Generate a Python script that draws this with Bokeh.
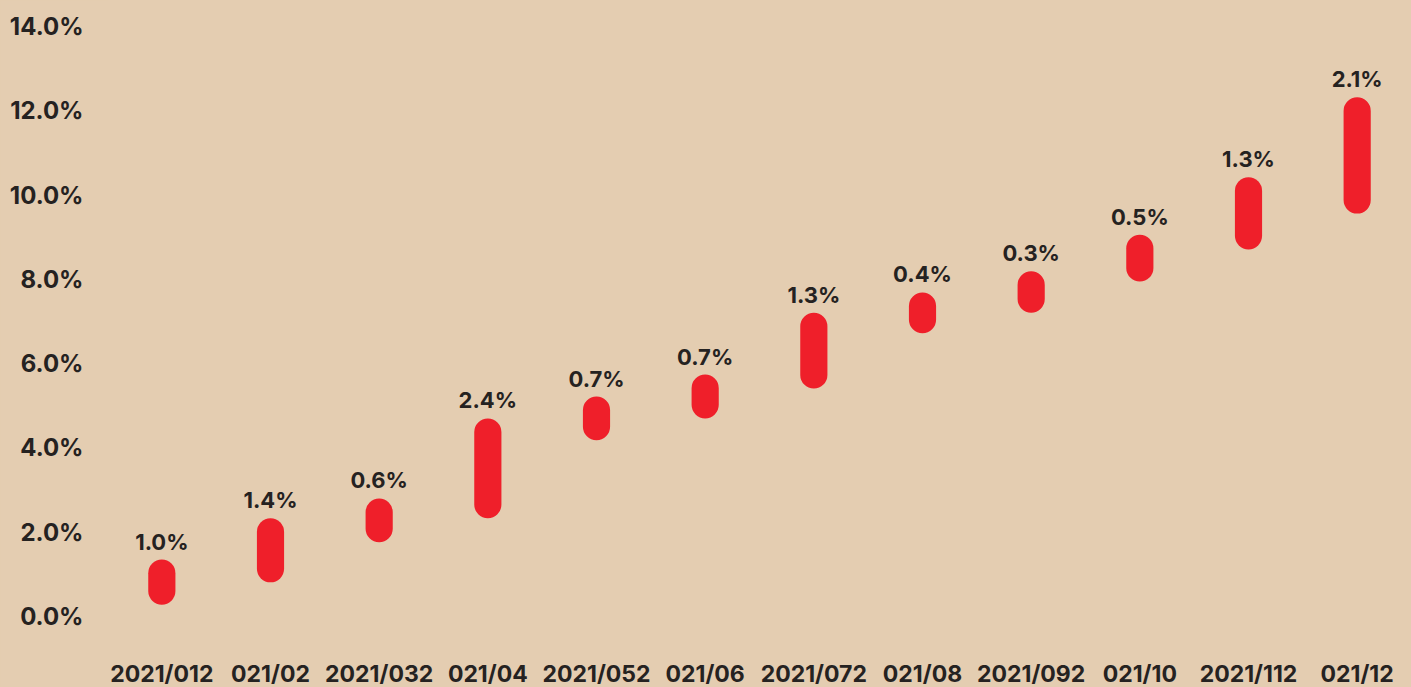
from bokeh.plotting import figure
from bokeh.models import ColumnDataSource, Range1d, FixedTicker, PrintfTickFormatter
from bokeh.core.properties import value
from bokeh.embed import file_html
from bokeh.resources import INLINE

months = ["2021/012", "021/02", "2021/032", "021/04", "2021/052", "021/06",
          "2021/072", "021/08", "2021/092", "021/10", "2021/112", "021/12"]
lows = [0.28, 0.81, 1.76, 2.33, 4.18, 4.70, 5.41, 6.72, 7.21, 7.95, 8.71, 9.56]
highs = [1.35, 2.33, 2.80, 4.70, 5.22, 5.74, 7.21, 7.69, 8.19, 9.06, 10.42, 12.32]
labels = ["1.0%", "1.4%", "0.6%", "2.4%", "0.7%", "0.7%",
          "1.3%", "0.4%", "0.3%", "0.5%", "1.3%", "2.1%"]
yticks = [0, 2, 4, 6, 8, 10, 12, 14]

BG = "#E4CDB1"
RED = "#EF1F2A"
INK = "#252221"
FONT = "Inter"

xs = list(range(len(months)))
src = ColumnDataSource(dict(x=xs, low=lows, high=highs, label=labels))

p = figure(frame_width=1304, frame_height=650,
           x_range=Range1d(-0.5, 11.5), y_range=Range1d(-0.807, 14.617),
           output_backend="svg", toolbar_location=None,
           background_fill_color=BG, border_fill_color=BG,
           min_border_left=107, min_border_right=0, min_border_top=0,
           min_border_bottom=37)
p.outline_line_color = None
p.grid.visible = False

p.vbar(x="x", bottom="low", top="high", width=0.25, source=src,
       fill_color=RED, line_color=None, border_radius=14)

p.text(x="x", y="high", text="label", source=src,
       text_align="center", text_baseline="alphabetic", y_offset=-18,
       text_font=value(FONT), text_font_style="bold",
       text_font_size="22px", text_color=INK)

xa = p.xaxis[0]
xa.ticker = FixedTicker(ticks=xs)
xa.major_label_overrides = {i: m for i, m in zip(xs, months)}
xa.axis_line_color = None
xa.major_tick_line_color = None
xa.minor_tick_line_color = None
xa.major_label_standoff = 3
xa.major_label_text_font = FONT
xa.major_label_text_font_style = "bold"
xa.major_label_text_font_size = "23px"
xa.major_label_text_color = INK

ya = p.yaxis[0]
ya.ticker = FixedTicker(ticks=yticks)
ya.formatter = PrintfTickFormatter(format="%.1f%%")
ya.axis_line_color = None
ya.major_tick_line_color = None
ya.minor_tick_line_color = None
ya.major_label_standoff = 18
ya.major_label_text_font = FONT
ya.major_label_text_font_style = "bold"
ya.major_label_text_font_size = "24px"
ya.major_label_text_color = INK

html = file_html(p, INLINE)
html = html.replace("<head>", "<head><style>html,body{background:%s;}</style>" % BG, 1)
open("out.html", "w").write(html)
